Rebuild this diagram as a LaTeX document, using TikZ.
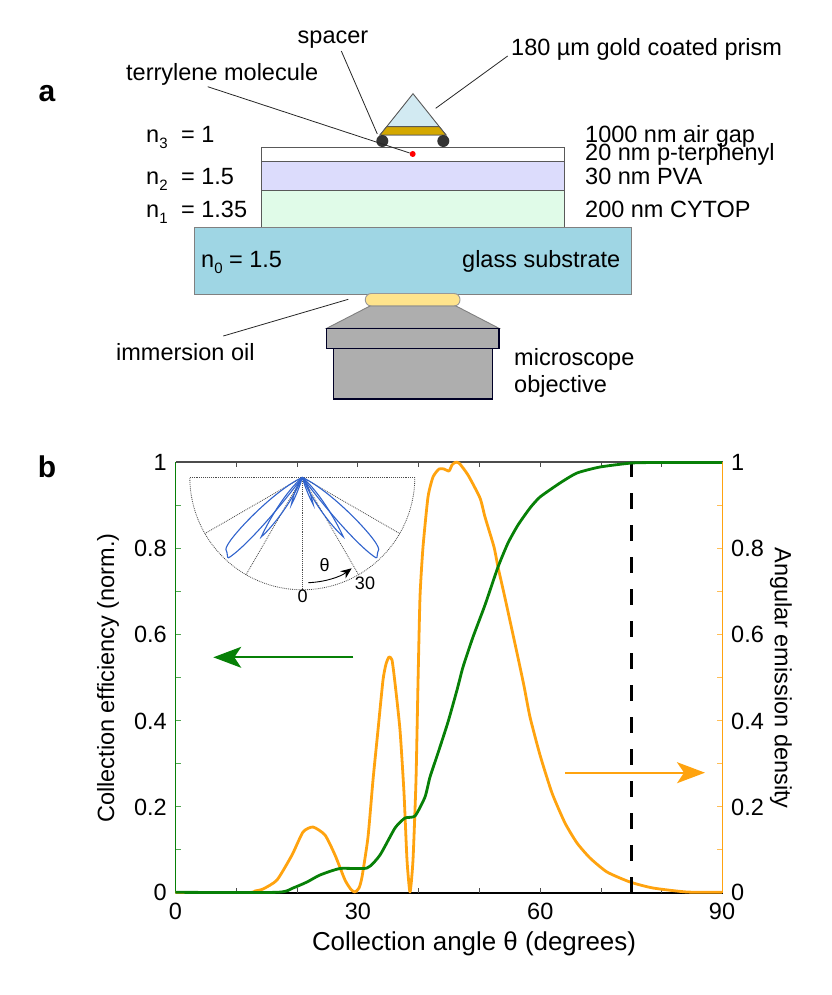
\documentclass[tikz,border=0pt]{standalone}
\usepackage{fontspec}
\setmainfont{Liberation Sans}
\usetikzlibrary{arrows.meta}
\definecolor{curveorange}{HTML}{FFA30F}
\definecolor{curvegreen}{HTML}{078007}
\definecolor{lobeblue}{HTML}{2F62CC}
\definecolor{pvafill}{HTML}{DCDCFC}
\definecolor{cytopfill}{HTML}{E0FBE8}
\definecolor{glassfill}{HTML}{9FD6E4}
\definecolor{prismfill}{HTML}{D2EAF2}
\definecolor{goldfill}{HTML}{D4A800}
\definecolor{oilfill}{HTML}{FFE48C}
\definecolor{objfill}{HTML}{AEAEAE}
\newcommand{\idx}[1]{\raisebox{-0.27em}{\fontsize{15}{15}\selectfont #1}}
\tikzset{
every node/.style={inner sep=0pt,font=\fontsize{23.5}{26}\selectfont},
panel/.style={font=\fontsize{30}{32}\selectfont\bfseries},
inset/.style={font=\fontsize{18}{20}\selectfont},
layer/.style={draw=black!65,line width=0.9pt},
objpart/.style={draw=black!85!blue,line width=1.4pt,fill=objfill},
leader/.style={draw=black!85,line width=0.8pt},
polarline/.style={draw=black!70,line width=0.9pt,densely dotted},
lobe/.style={draw=lobeblue,line width=1.1pt}
}
\begin{document}
\begin{tikzpicture}[x=1pt,y=-1pt]
\useasboundingbox (0,0) rectangle (831,995);
% Panel a: the layers
\draw[layer,fill=white] (261.7,147.3) rectangle (564,161.3); % p-terphenyl
\draw[layer,fill=pvafill] (261.7,161.3) rectangle (564,190.3); % PVA
\draw[layer,fill=cytopfill] (261.7,190.3) rectangle (564,227.7); % CYTOP
\draw[layer,draw=black!50,fill=glassfill] (194,227.7) rectangle (631.3,294); % glass
% Prism and spacers
\draw[layer,fill=prismfill] (413,93.7) -- (380,135) -- (446,135) -- cycle;
\draw[layer,fill=goldfill] (386.7,126.7) -- (439.3,126.7) -- (446,135) -- (380,135) -- cycle;
\node (spacerl) [circle,fill=black!80,minimum size=12pt] at (382.3,141) {};
\node (spacerr) [circle,fill=black!80,minimum size=12pt] at (443.3,141) {};
\node (molecule) [circle,fill=red,minimum size=6pt] at (412.7,154) {};
% Oil and objective
\draw[draw=black!40,line width=0.9pt,fill=oilfill,rounded corners=6pt] (365.3,293.5) rectangle (460,306);
\draw[draw=black!50,line width=0.9pt,fill=objfill] (370,306) -- (456,306) -- (499,328.3) -- (326.7,328.3) -- cycle;
\draw[objpart] (333.3,348.3) rectangle (492.7,399);
\draw[objpart] (326.7,328.3) rectangle (499,348.3);
% Panel a: labels
\node[panel] (a) at (47,94) {a};
\node[anchor=base] (spacer) at (333,43.3) {spacer};
\node[anchor=base west] (prism) at (511,56) {180 µm gold coated prism};
\node[anchor=base west] (terrylene) at (126,80.7) {terrylene molecule};
\node[anchor=base west] (n3) at (146,142.3) {n\idx{3}\hspace{7pt} = 1};
\node[anchor=base west] (n2) at (146,184.3) {n\idx{2}\hspace{7pt} = 1.5};
\node[anchor=base west] (n1) at (146,217.3) {n\idx{1}\hspace{7pt} = 1.35};
\node[anchor=base west] (n0) at (201,267.3) {n\idx{0} = 1.5};
\node[anchor=base west] (airgap) at (585,142.3) {1000 nm air gap};
\node[anchor=base west] (terphenyl) at (585,160.7) {20 nm p-terphenyl};
\node[anchor=base west] (pva) at (585,184.3) {30 nm PVA};
\node[anchor=base west] (cytop) at (585,217.3) {200 nm CYTOP};
\node[anchor=base west] (glass) at (462,267.3) {glass substrate};
\node[anchor=base west] (oil) at (116,360.7) {immersion oil};
\node[anchor=base west] (micro) at (514,365) {microscope};
\node[anchor=base west] (objective) at (514,392.5) {objective};
% Leader lines
\coordinate (spacerfrom) at (341.3,51);
\coordinate (spacerto) at (377.3,134);
\coordinate (prismfrom) at (507.7,56);
\coordinate (prismto) at (435.7,108.3);
\coordinate (terrylenefrom) at (207.7,86.7);
\coordinate (oilfrom) at (223.3,336);
\coordinate (oilto) at (348.3,299.3);
\draw[leader] (spacerfrom) -- (spacerto);
\draw[leader] (prismfrom) -- (prismto);
\draw[leader] (terrylenefrom) -- (molecule);
\draw[leader] (oilfrom) -- (oilto);
% Panel b: axes
\node[panel] (b) at (47,467) {b};
\draw[black!70,line width=1.2pt] (175.5,462) -- (722.7,462); % top
\draw[black,line width=1.6pt] (175.5,892.7) -- (722.7,892.7); % bottom
\foreach \k in {1,...,8} {
\draw[black!70,line width=0.9pt] ({175.5+60.8*\k},462) -- ++(0,5);
\draw[black!70,line width=0.9pt] ({175.5+60.8*\k},892.7) -- ++(0,-5);
}
\foreach \k in {1,...,9} {
\draw[curvegreen!70,line width=0.9pt] (175.5,{892.7-43.07*\k}) -- ++(5,0);
\draw[curveorange!70,line width=0.9pt] (722.7,{892.7-43.07*\k}) -- ++(-6,0);
}
\draw[curvegreen,line width=1.2pt] (175.5,462) -- (175.5,892.7); % left
\draw[curveorange,line width=1.2pt] (722.7,462) -- (722.7,892.7); % right
% Tick labels
\foreach \lab/\yy in {1/462.7,0.8/548.8,0.6/634.9,0.4/721.1,0.2/807.2,0/892.7} {
\node[anchor=east] (l\lab) at (167,\yy) {\lab};
\node[anchor=west] (r\lab) at (731,\yy) {\lab};
}
\foreach \lab/\xx in {0/175.5,30/357.9,60/540.3,90/722} {
\node (x\lab) at (\xx,911) {\lab};
}
\node[font=\fontsize{25.9}{28}\selectfont] (xlabel) at (474,944) {Collection angle θ (degrees)};
\node[rotate=90] (ylabel) at (108,678) {Collection efficiency (norm.)};
\node[rotate=-90] (yrlabel) at (781,678) {Angular emission density};
% Inset
\coordinate (polar) at (302.3,477.3);
\draw[polarline] (polar) ++(-112.5,0) -- ++(225,0);
\draw[polarline,line width=0.8pt] plot[domain=0:180,samples=60] ({302.3+112.5*cos(\x)},{477.3+112.5*sin(\x)});
\foreach \ang in {30,60,90,120,150} {
\draw[polarline,line width=0.8pt] (polar) -- ++(\ang:112.5);
}
\foreach \s in {1,-1} {
\begin{scope}[shift={(polar)},xscale=\s]
\draw[lobe,rounded corners=1pt] (0,0) .. controls (25,12) and (58,45) .. (71,62) .. controls (76,69) and (77,72) .. (75.5,74) -- (74.5,81) .. controls (60,72) and (30,40) .. (0,0);
\draw[lobe] (0,0) .. controls (16,14) and (32,40) .. (41,59.5) .. controls (28,48) and (9,22) .. (0,0);
\draw[lobe] (0,0) .. controls (5,6) and (9,18) .. (11,27.5) .. controls (7,20) and (2,8) .. (0,0);
\end{scope}
}
\coordinate (thetafrom) at (308.3,582.7);
\coordinate (thetato) at (351.7,568.3);
\draw[black,line width=0.9pt,-{Stealth[length=11pt,width=9pt]}] (thetafrom) .. controls (325,582) and (340,577) .. (thetato);
\node[inset] (theta) at (324.7,565) {θ};
\node[inset] (deg30) at (365,583.5) {30};
\node[inset] (deg0) at (302.7,596.7) {0};
% Curves
\draw[curveorange,line width=2.8pt,line join=round] plot[smooth,tension=0.35] coordinates {(175.5,892.5) (248,892.5) (255,891) (263,889) (277,880) (292,855) (303,832) (313,827) (325,835) (335,855) (345,880) (351,889.5) (355,892) (359,888) (362,877) (368,837) (373,780) (378,730) (383,680) (386,664) (389,657) (392,660) (395,683) (400,730) (404,793) (407,860) (410,892) (413,860) (416,780) (418,683) (420,597) (423,547) (428,497) (433,477) (439,469) (444,469) (449,471) (452,465) (455,462.5) (459,463) (468,475) (480,498) (485,517) (494,547) (498,567) (505,598) (517,653) (524,686) (530,717) (540,755) (552,793) (565,823) (577,843) (590,858) (607,872) (630,882) (653,888) (687,892) (722,892.3)};
\draw[black,line width=3pt,dash pattern=on 16pt off 16pt] (631.5,892.7) -- (631.5,463);
\draw[curvegreen,line width=2.8pt,line join=round] plot[smooth,tension=0.35] coordinates {(175.5,892.3) (277,892.3) (293,888) (307,882) (320,875) (340,868.5) (367,868) (380,855) (395,828) (405,818) (415,816) (425,797) (430,777) (438,753) (448,722) (457,690) (463,667) (473,637) (485,605) (498,567) (508,543) (518,525) (530,508) (540,497) (560,483) (577,473) (600,467) (632,463) (660,462.5) (722,462.5)};
% Arrows
\coordinate (greenfrom) at (353.3,657.3);
\coordinate (greento) at (213.3,657.3);
\coordinate (orangefrom) at (565,772.7);
\coordinate (orangeto) at (705,772.7);
\draw[curvegreen,line width=1.8pt,-{Stealth[length=28pt,width=21pt,inset=7pt]}] (greenfrom) -- (greento);
\draw[curveorange,line width=1.8pt,-{Stealth[length=28pt,width=21pt,inset=7pt]}] (orangefrom) -- (orangeto);
\end{tikzpicture}
\end{document}
